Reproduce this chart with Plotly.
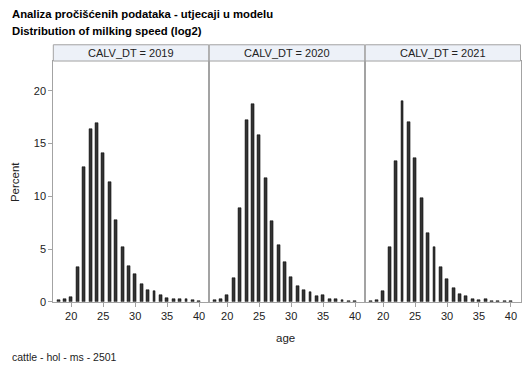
import plotly.graph_objects as go

ages = list(range(18, 41))
years = ["2019", "2020", "2021"]
pct_2019 = [0.22, 0.28, 0.44, 3.30, 12.75, 16.42, 16.95, 14.15, 11.32, 7.78, 5.16, 3.36,
            2.67, 1.71, 1.09, 1.00, 0.62, 0.34, 0.28, 0.28, 0.28, 0.16, 0.12]
pct_2020 = [0.22, 0.25, 0.62, 2.30, 8.93, 17.23, 18.79, 15.83, 11.70, 7.68, 5.38, 3.79,
            2.36, 1.52, 1.09, 0.90, 0.53, 0.68, 0.25, 0.25, 0.16, 0.12, 0.04]
pct_2021 = [0.10, 0.19, 1.03, 5.16, 13.37, 19.07, 17.01, 13.62, 9.86, 6.53, 5.16, 3.30,
            2.15, 1.34, 0.78, 0.53, 0.31, 0.22, 0.28, 0.12, 0.09, 0.12, 0.06]
series = [pct_2019, pct_2020, pct_2021]
x_ticks = [20, 25, 30, 35, 40]
y_ticks = [0, 5, 10, 15, 20]

W, H = 529, 378
FONT = "Liberation Sans, Arial, sans-serif"
TXT = "#222222"
LINE = "#a3a3a3"

panels_px = [(53.3, 208.7), (209.3, 364.7), (365.3, 520.5)]
top_px, bot_px = 62.0, 306.7
ydom = [1 - bot_px / H, 1 - top_px / H]

fig = go.Figure()
for i, (yr, vals) in enumerate(zip(years, series)):
    sfx = "" if i == 0 else str(i + 1)
    fig.add_trace(go.Bar(
        x=ages, y=vals, width=0.45,
        marker=dict(color="#333333", line=dict(color="#000000", width=0.5)),
        xaxis="x" + sfx, yaxis="y" + sfx, showlegend=False,
    ))
    x0, x1 = panels_px[i]
    fig.layout["xaxis" + sfx] = dict(
        domain=[x0 / W, x1 / W], range=[17.2, 41.5], anchor="y" + sfx,
        tickvals=x_ticks, ticks="outside", ticklen=4, tickcolor=LINE,
        showline=True, linecolor=LINE, linewidth=1, mirror=True,
        showgrid=False, zeroline=False,
        tickfont=dict(family=FONT, size=11, color=TXT),
    )
    fig.layout["yaxis" + sfx] = dict(
        domain=ydom, range=[0, 22.83], anchor="x" + sfx,
        tickvals=y_ticks, ticks="outside" if i == 0 else "", ticklen=4, tickcolor=LINE,
        showticklabels=(i == 0),
        showline=True, linecolor=LINE, linewidth=1, mirror=True,
        showgrid=False, zeroline=False,
        tickfont=dict(family=FONT, size=11, color=TXT),
    )

shapes = []
annotations = []
hdr_top, hdr_bot = 45.5, 62.0
for i, yr in enumerate(years):
    x0, x1 = panels_px[i]
    shapes.append(dict(type="rect", xref="paper", yref="paper",
                       x0=x0 / W, x1=x1 / W, y0=1 - hdr_bot / H, y1=1 - hdr_top / H,
                       fillcolor="#edf1f8", line=dict(color=LINE, width=1)))
    annotations.append(dict(text=f"CALV_DT = {yr}", xref="paper", yref="paper",
                            x=(x0 + x1) / 2 / W, y=1 - (hdr_top + hdr_bot) / 2 / H,
                            xanchor="center", yanchor="middle", showarrow=False,
                            font=dict(family=FONT, size=11, color=TXT)))

annotations += [
    dict(text="<b>Analiza pročišćenih podataka - utjecaji u modelu</b>", xref="paper", yref="paper",
         x=10 / W, y=1 - 14.5 / H, xanchor="left", yanchor="middle", showarrow=False,
         font=dict(family=FONT, size=11.3, color="#000000")),
    dict(text="<b>Distribution of milking speed (log2)</b>", xref="paper", yref="paper",
         x=10 / W, y=1 - 32 / H, xanchor="left", yanchor="middle", showarrow=False,
         font=dict(family=FONT, size=11.3, color="#000000")),
    dict(text="age", xref="paper", yref="paper",
         x=285 / W, y=1 - 343 / H, xanchor="center", yanchor="middle", showarrow=False,
         font=dict(family=FONT, size=11.5, color=TXT)),
    dict(text="Percent", xref="paper", yref="paper", textangle=-90,
         x=15 / W, y=1 - 185 / H, xanchor="center", yanchor="middle", showarrow=False,
         font=dict(family=FONT, size=11.5, color=TXT)),
    dict(text="cattle - hol - ms - 2501", xref="paper", yref="paper",
         x=10 / W, y=1 - 363 / H, xanchor="left", yanchor="middle", showarrow=False,
         font=dict(family=FONT, size=10.5, color=TXT)),
]

fig.update_layout(
    width=W, height=H, autosize=False,
    margin=dict(l=0, r=0, t=0, b=0),
    paper_bgcolor="white", plot_bgcolor="white",
    shapes=shapes, annotations=annotations, bargap=0,
)
fig.write_html("out.html", config={"displayModeBar": False},
               post_script="document.body.style.margin='0';")
